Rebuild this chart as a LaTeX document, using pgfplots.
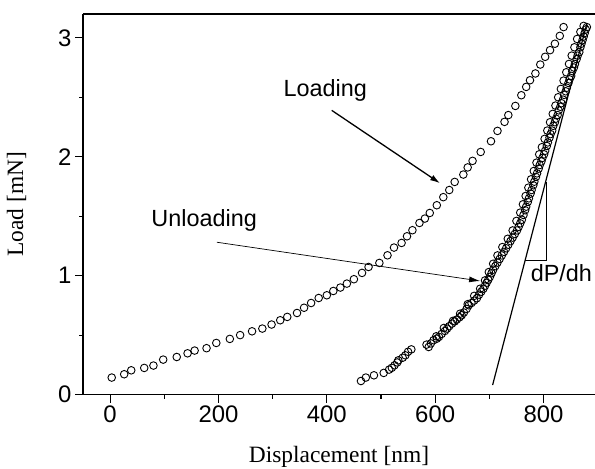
\documentclass[border=0pt]{standalone}
\usepackage{fontspec}
\setmainfont{Liberation Serif}
\setsansfont{Liberation Sans}
\usepackage{pgfplots}
\pgfplotsset{compat=1.18}
\usetikzlibrary{arrows.meta}

\pgfplotstableread{
x y
3 0.143
26 0.171
39 0.204
63 0.224
80 0.244
98 0.294
123 0.316
143 0.347
156 0.37
178 0.39
196 0.434
221 0.468
240 0.50
262 0.532
281 0.555
298 0.589
314 0.625
327 0.653
345 0.686
358 0.73
371 0.77
385 0.812
400 0.835
412 0.871
425 0.90
437 0.933
450 0.97
465 1.023
477 1.073
497 1.107
512 1.171
524 1.236
538 1.275
548 1.331
558 1.382
571 1.443
581 1.48
590 1.527
603 1.592
615 1.66
626 1.72
636 1.788
652 1.85
660 1.91
669 1.965
684 2.04
703 2.13
715 2.217
728 2.293
735 2.35
748 2.427
759 2.517
768 2.587
775 2.643
785 2.70
794 2.775
803 2.84
812 2.896
821 2.95
830 3.016
837 3.09
}\loading

\pgfplotstableread{
x y
463 0.114
472 0.143
487 0.162
505 0.182
515 0.21
520 0.225
525 0.246
530 0.27
532 0.288
540 0.31
545 0.33
550 0.36
556 0.38
588 0.40
592 0.43
597 0.457
603 0.47
607 0.485
612 0.51
618 0.535
622 0.555
626 0.575
631 0.597
636 0.615
640 0.631
645 0.65
649 0.667
653 0.69
658 0.72
662 0.751
667 0.77
672 0.79
677 0.81
681 0.84
685 0.865
689 0.89
692 0.915
695 0.94
698 0.965
701 0.99
704 1.02
707 1.05
711 1.08
715 1.11
719 1.14
723 1.17
727 1.20
731 1.23
735 1.26
739 1.29
743 1.32
747 1.35
751 1.38
754 1.41
757 1.44
760 1.47
763 1.51
766 1.55
768 1.58
771 1.62
773 1.65
776 1.69
778 1.72
781 1.76
783 1.79
786 1.83
788 1.86
791 1.90
793 1.93
796 1.96
798 1.99
801 2.02
803 2.05
806 2.09
808 2.12
811 2.16
813 2.19
816 2.22
818 2.26
821 2.29
823 2.32
826 2.35
828 2.39
831 2.42
833 2.45
836 2.48
838 2.52
841 2.55
843 2.58
846 2.62
848 2.65
851 2.68
853 2.72
856 2.75
858 2.78
861 2.82
863 2.85
866 2.88
868 2.92
870 2.95
872 2.98
874 3.01
876 3.04
878 3.07
880 3.09
584 0.42
602 0.49
616 0.56
633 0.62
646 0.68
660 0.76
672 0.83
683 0.89
692 0.96
699 1.03
707 1.10
715 1.17
724 1.24
734 1.31
743 1.38
750 1.46
757 1.53
762 1.60
767 1.67
772 1.74
777 1.81
782 1.88
787 1.95
792 2.02
797 2.08
802 2.15
807 2.22
812 2.29
817 2.36
822 2.43
827 2.50
832 2.57
837 2.64
842 2.71
847 2.78
852 2.85
857 2.92
862 2.99
868 3.05
874 3.10
}\unloading

\begin{document}
\begin{tikzpicture}
\begin{axis}[
  scale only axis, width=511.9bp, height=380.5bp,
  xmin=-50, xmax=895, ymin=0, ymax=3.2,
  axis lines*=left,
  axis line style={line width=1.2bp, black},
  xtick={0,200,400,600,800}, minor x tick num=1,
  ytick={0,1,2,3}, minor y tick num=1,
  tick align=outside, major tick length=8bp, minor tick length=4bp,
  tick style={line width=1.1bp, black},
  ticklabel style={font=\sffamily\fontsize{24}{24}\selectfont},
  /pgf/number format/assume math mode=true,
  xlabel={Displacement [nm]}, ylabel={Load [mN]},
  label style={font=\rmfamily\fontsize{23.5}{23.5}\selectfont},
  xlabel style={at={(axis description cs:0.5,-0.163)}, anchor=center},
  ylabel style={at={(axis description cs:-0.13,0.5)}, anchor=center},
  clip=false,
]
\addplot[only marks, mark=o, mark size=3.8bp, mark options={line width=0.9bp, black}] table {\loading};
\addplot[only marks, mark=o, mark size=3.8bp, mark options={line width=0.9bp, black}] table {\unloading};
% tangent line
\addplot[black, line width=1.2bp] coordinates {(706,0.08) (880,3.12)};
% slope triangle
\addplot[black, line width=1.1bp] coordinates {(766,1.13) (806,1.13) (806,1.79)};
\draw[line width=1.2bp] (rel axis cs:0,1) -- (rel axis cs:1,1);
\node[font=\sffamily\fontsize{23.5}{23.5}\selectfont] at (axis cs:397,2.56) {Loading};
\node[font=\sffamily\fontsize{23.5}{23.5}\selectfont] at (axis cs:173.5,1.466) {Unloading};
\node[font=\sffamily\fontsize{23.5}{23.5}\selectfont] at (axis cs:833,1.02) {dP/dh};
\draw[line width=1.3bp, -{Latex[length=10bp, width=6bp]}] (axis cs:409,2.39) -- (axis cs:609,1.777);
\draw[line width=0.7bp, -{Latex[length=11bp, width=6bp]}] (axis cs:197,1.281) -- (axis cs:683,0.955);
\coordinate (sw) at (rel axis cs:0,0);
\coordinate (ne) at (rel axis cs:1,1);
\end{axis}
\pgfresetboundingbox
\path ([xshift=-83bp, yshift=-73.7bp]sw) rectangle ([yshift=14bp]ne);
\end{tikzpicture}
\end{document}
